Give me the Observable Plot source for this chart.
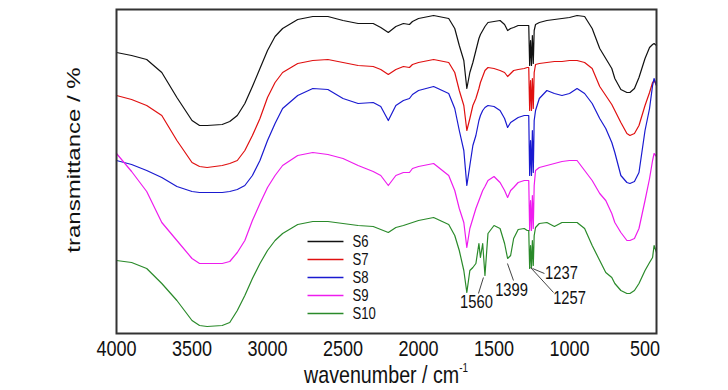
<!DOCTYPE html>
<html>
<head>
<meta charset="utf-8">
<script src="https://cdn.jsdelivr.net/npm/d3@7"></script>
<script src="https://cdn.jsdelivr.net/npm/@observablehq/plot@0.6"></script>
<style>
  html, body { margin: 0; padding: 0; background: #fff; }
  #chart { width: 728px; height: 390px; }
</style>
</head>
<body>
<div id="chart"></div>
<script>
// Wavenumber grid (cm-1)
const wavenumbers = [4000,3900,3800,3700,3600,3500,3450,3400,3300,3250,3200,3150,3100,3050,3000,2950,2900,2800,2700,2600,2500,2400,2300,2250,2200,2150,2100,2060,2040,2000,1900,1800,1760,1730,1700,1680,1660,1640,1620,1600,1590,1575,1560,1540,1500,1460,1430,1410,1390,1370,1340,1300,1280,1270,1264,1258,1252,1246,1240,1234,1225,1200,1150,1100,1050,1000,950,900,850,800,760,720,700,660,620,600,570,540,500,470,450,440,424];

// Transmittance (arbitrary units, stacked/offset curves)
const S6 = [281,278,274,261,236, 213,208,208,209,212, 218,230,247,265,283, 297,305,314,317,317, 313,310,310,306,301, 307,310,309,312,315, 318,315,305,288,273, 245,261,271,283,295, 299,303,307,311,312, 313,309,303,305,306, 308,308,308,308,268, 293,268,298,270,303, 309,311,313,314,315, 316,318,317,305,285, 275,265,255,244,241, 241,245,256,275,286, 289,290,288];
const S7 = [238,234,228,218,193, 171,167,166,168,170, 173,183,198,215,236, 251,261,270,273,274, 271,268,267,264,259, 264,267,266,269,271, 274,271,261,243,228, 203,215,228,235,245, 251,257,263,266,265, 263,261,257,260,263, 264,265,266,266,223, 253,223,255,225,261, 269,270,271,272,272, 273,273,271,265,247, 238,229,223,211,200, 198,200,208,228,241, 251,253,248];
const S8 = [173,169,163,156,147, 142,141,141,141,142, 144,148,158,173,193, 210,225,238,245,244, 235,230,231,227,213, 228,233,235,239,243, 247,240,225,203,183, 148,168,188,198,213, 218,223,226,228,227, 223,215,206,211,213, 216,218,218,218,158, 193,158,203,161,213, 223,235,243,240,238, 240,245,240,230,215, 205,191,181,158,151, 150,152,161,203,225, 248,255,248];
const S9 = [180,162,142,111,93, 75,70,70,70,72, 81,93,113,130,146, 158,168,178,181,179, 175,168,162,158,148, 158,161,161,165,167, 170,158,143,125,111, 86,105,115,125,133, 137,143,147,153,157, 151,143,136,143,146, 151,153,153,153,103, 133,103,138,105,148, 163,166,168,170,172, 173,173,163,153,140, 133,120,111,101,93, 93,95,105,133,155, 173,180,177];
const S10 = [73,71,65,50,33, 13,8,7,8,11, 23,38,55,70,83, 93,100,109,112,112, 110,108,107,104,101, 106,108,110,111,113, 116,109,98,83,63, 41,63,66,70,90, 76,90,58,100,108, 105,90,75,78,95, 104,105,103,103,65, 88,65,93,68,98, 106,110,111,107,111, 111,111,105,88,73, 61,56,50,43,40, 40,43,50,63,71, 76,88,81];

const seriesNames = ["S6","S7","S8","S9","S10"];
const seriesColors = ["#111111","#e01010","#1a1ad0","#ee1cee","#2a8a2a"];
const xTicks = [4000,3500,3000,2500,2000,1500,1000,500];

// Legend placement (data units)
const legendY = [92, 74, 56, 38, 20];
const legendX1 = 2735, legendX2 = 2497, legendTextX = 2437;

// Peak annotations
const annoLabels = ["1560","1399","1257","1237"];
const annoFromX = [1570, 1411, 1258, 1245];
const annoFromY = [56, 70, 66, 65];
const annoToX = [1603, 1371, 1106, 1166];
const annoToY = [40, 53, 41, 60];
const annoTextX = [1616, 1384, 1000, 1053];
const annoTextY = [31, 43, 35, 60];

const allValues = [S6, S7, S8, S9, S10];
const rows = [];
seriesNames.forEach((name, s) => {
  wavenumbers.forEach((w, i) => rows.push({series: name, w, t: allValues[s][i]}));
});
const legendRows = seriesNames.map((name, i) => ({series: name, y: legendY[i]}));
const annoRows = annoLabels.map((label, i) => ({
  label, x1: annoFromX[i], y1: annoFromY[i], x2: annoToX[i], y2: annoToY[i], tx: annoTextX[i], ty: annoTextY[i]
}));

const font = '"Liberation Sans", Arial, Helvetica, sans-serif';
const squeeze = 0.82; // the reference lettering is horizontally condensed

const chart = Plot.plot({
  width: 728,
  height: 390,
  marginLeft: 116,
  marginRight: 72,
  marginTop: 9,
  marginBottom: 57,
  style: {fontFamily: font, fontSize: "22px", color: "#111", background: "#fff"},
  x: {domain: [4000, 424]},
  y: {domain: [0, 324], axis: null},
  color: {domain: seriesNames, range: seriesColors},
  marks: [
    Plot.line(rows, {x: "w", y: "t", z: "series", stroke: "series", strokeWidth: 1.2}),
    Plot.link(legendRows, {x1: () => legendX1, x2: () => legendX2, y1: "y", y2: "y", stroke: "series", strokeWidth: 1.3}),
    Plot.text(legendRows, {x: () => legendTextX, y: "y", text: "series", textAnchor: "start", fontSize: 16, fill: "#111"}),
    Plot.link(annoRows, {x1: "x1", y1: "y1", x2: "x2", y2: "y2", stroke: "#444", strokeWidth: 1}),
    Plot.text(annoRows, {x: "tx", y: "ty", text: "label", fontSize: 18, fill: "#111"}),
    Plot.frame({stroke: "#333", strokeWidth: 2}),
    Plot.axisX({ticks: xTicks, tickFormat: d => String(d), tickSize: 0, tickPadding: 7, label: null})
  ]
});
document.getElementById("chart").appendChild(chart);

const svg = d3.select(chart);
// condense all horizontal lettering around its own anchor
svg.selectAll("text").each(function () {
  const t = this.getAttribute("transform");
  if (t) this.setAttribute("transform", t + ` scale(${squeeze},1)`);
});

const xTitle = svg.append("text")
  .attr("transform", `translate(${(116 + 656) / 2},383) scale(${squeeze},1)`)
  .attr("text-anchor", "middle")
  .attr("font-family", font)
  .attr("font-size", 24)
  .attr("fill", "#111");
xTitle.append("tspan").text("wavenumber / cm");
xTitle.append("tspan").attr("font-size", 12).attr("dy", -11).text("-1");

svg.append("text")
  .attr("transform", "translate(80,160) rotate(-90) scale(1,0.8)")
  .attr("text-anchor", "middle")
  .attr("font-family", font)
  .attr("font-size", 24)
  .attr("fill", "#111")
  .text("transmittance / %");
</script>
</body>
</html>
